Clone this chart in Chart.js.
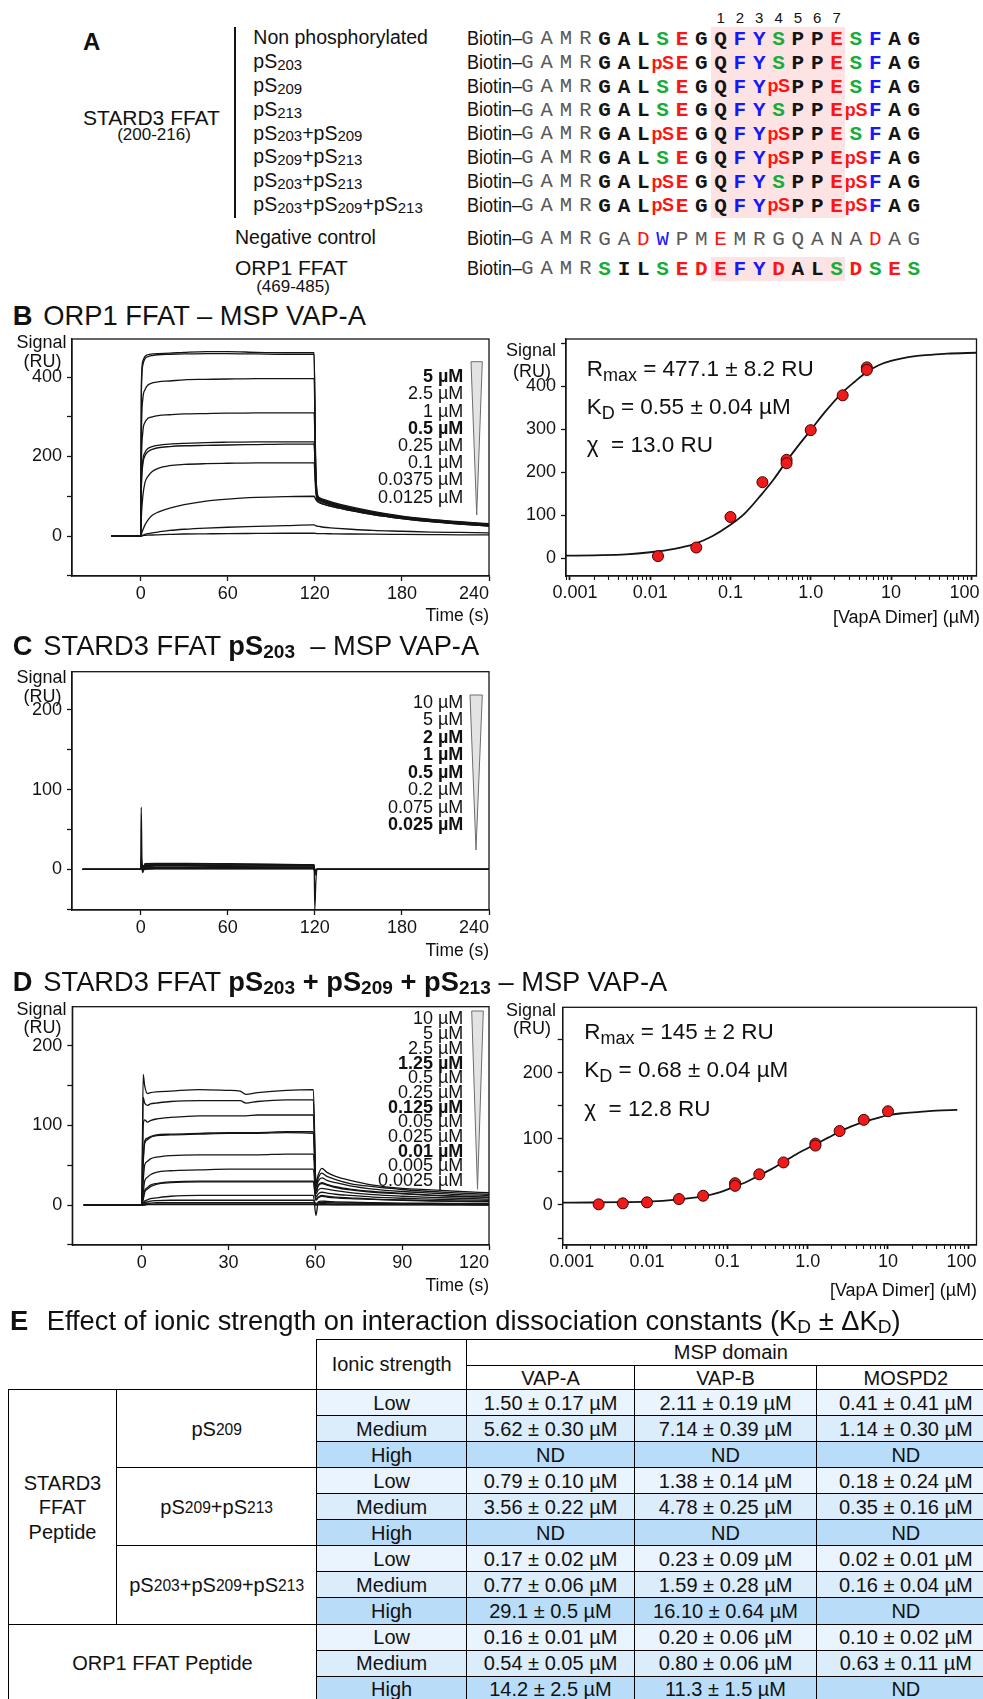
<!DOCTYPE html>
<html>
<head>
<meta charset="utf-8">
<title>STARD3 / ORP1 FFAT – MSP binding</title>
<script src="https://cdn.jsdelivr.net/npm/chart.js@4.4.1/dist/chart.umd.min.js"></script>
<style>
  body { margin: 0; background: #fff; }
  #fig { position: relative; width: 983px; height: 1699px; overflow: hidden; background: #fff;
         font-family: 'Liberation Sans', Arial, Helvetica, sans-serif; color: #111; }
  #fig canvas { position: absolute; }
  .t { position: absolute; white-space: nowrap; }
  .s1 { font-size: 0.77em; position: relative; top: 0.12em; }
  .s2 { font-size: 0.7em; position: relative; top: 0.16em; }
  .s3 { font-size: 0.8em; position: relative; top: 0.28em; }
  .s4 { font-size: 0.78em; position: relative; top: 0.06em; }
  .blk { position: absolute; }
  .cell { position: absolute; box-sizing: border-box; border: 1.5px solid #000; display: flex;
          align-items: center; justify-content: center; text-align: center; font-size: 20px;
          line-height: 24.5px; white-space: nowrap; }
</style>
</head>
<body>
<div id="fig"></div>
<script>
// ---------- B: ORP1 FFAT on MSP VAP-A, sensorgram ----------
const bTime = [-20, 0, 0.5, 1.5, 3, 5, 8, 12, 20, 30, 45, 60, 80, 100, 119.5, 120.5, 121.5, 123, 126, 133, 145, 160, 180, 200, 220, 240];
const b5a     = [0, 0, 380, 440, 452, 456, 458, 459, 460, 462, 464, 464, 462, 461, 461, 200, 110, 97, 92, 84, 73, 62, 50, 42, 36, 31];
const b5b     = [0, 0, 360, 430, 446, 451, 454, 456, 457, 458, 459, 459, 458, 457, 457, 195, 108, 95, 90, 82, 71, 60, 49, 41, 35, 30];
const b2p5    = [0, 0, 250, 345, 368, 380, 385, 388, 390, 393, 394, 395, 396, 396, 396, 180, 105, 94, 89, 80, 70, 60, 48, 40, 34, 29];
const b1      = [0, 0, 180, 262, 286, 296, 300, 303, 305, 307, 308, 309, 310, 310, 310, 160, 100, 92, 87, 79, 69, 59, 47, 39, 33, 28];
const b0p5a   = [0, 0, 130, 190, 210, 220, 225, 228, 231, 233, 235, 236, 237, 237, 237, 140, 96, 90, 85, 77, 67, 57, 46, 38, 32, 27];
const b0p5b   = [0, 0, 120, 180, 202, 212, 218, 222, 225, 227, 228, 229, 230, 231, 231, 135, 95, 89, 84, 76, 66, 56, 45, 37, 31, 26];
const b0p25   = [0, 0, 50, 100, 135, 150, 162, 170, 177, 180, 182, 183, 184, 184, 184, 120, 90, 85, 80, 73, 64, 54, 44, 36, 30, 25];
const b0p1    = [0, 0, 5, 15, 28, 40, 52, 60, 70, 79, 88, 93, 97, 99, 100, 93, 88, 84, 80, 73, 64, 54, 44, 36, 30, 25];
const b0p0375 = [0, 0, 0, 2, 4, 6, 8, 10, 14, 17, 20, 22, 24, 26, 28, 26, 25, 24, 22, 20, 17, 14, 12, 10, 9, 8];
const b0p0125 = [0, 0, 0, 1, 1.5, 2, 2.5, 3, 4, 5, 5.5, 6, 6.5, 7, 7, 6.5, 6, 6, 6, 5.5, 5, 4.5, 4, 3.5, 3, 3];
const bCurves = [b5a, b5b, b2p5, b1, b0p5a, b0p5b, b0p25, b0p1, b0p0375, b0p0125];
const bConcLabels = ['5 µM', '2.5 µM', '1 µM', '0.5 µM', '0.25 µM', '0.1 µM', '0.0375 µM', '0.0125 µM'];
const bBold = ['5 µM', '0.5 µM'];

// B: steady-state response vs [VapA dimer]
const bConc = [0.0125, 0.0375, 0.1, 0.25, 0.5, 0.5, 1, 2.5, 5, 5];
const bResp = [5, 25, 96, 177, 229, 221, 298, 379, 444, 438];
const bFitConc = [0.000893, 0.002, 0.005, 0.01, 0.02, 0.035, 0.06, 0.1, 0.15, 0.24, 0.35, 0.5, 0.7, 1, 1.5, 2.5, 3.5, 5, 7, 10, 20, 30, 50, 116];
const bFitResp = [6, 7, 9, 14, 22, 33, 52, 78, 104, 147, 185, 226, 262, 298, 340, 386, 410, 433, 449, 459, 470, 473, 476, 478];

// ---------- C: STARD3 FFAT pS203 on MSP VAP-A ----------
const cTime = [-40, -0.5, 0, 0.4, 0.9, 1.5, 3, 10, 30, 60, 90, 118.5, 119.5, 120, 120.6, 121.5, 123, 150, 200, 240];
const c10     = [0, 0, 0, 78, 10, -4, 7, 7.5, 7.5, 7, 6.5, 6, 6, -50, -20, 0, 0, 0, 0, 0];
const c5      = [0, 0, 0, 15, 6, 3, 6.5, 7, 7, 6.5, 6, 5.5, 5.5, -8, -3, 0, 0, 0, 0, 0];
const c2      = [0, 0, 0, 10, 5, 3, 5.5, 6, 6, 5.5, 5, 5, 5, -6, -2, 0, 0, 0, 0, 0];
const c1      = [0, 0, 0, 8, 4, 2, 4.5, 5, 5, 4.5, 4, 4, 4, -5, -2, 0, 0, 0, 0, 0];
const c0p5    = [0, 0, 0, 6, 3, 2, 3.5, 4, 4, 3.5, 3, 3, 3, -4, -1, 0, 0, 0, 0, 0];
const c0p2    = [0, 0, 0, 4, 2, 1, 2, 2.5, 2.5, 2, 2, 2, 2, -3, -1, 0, 0, 0, 0, 0];
const c0p075  = [0, 0, 0, 3, 1, 0, 1, 1, 1, 1, 1, 1, 1, -2, 0, 0, 0, 0, 0, 0];
const c0p025  = [0, 0, 0, 2, 0, -1, 0, 0.5, 0.5, 0.5, 0.5, 0.5, 0.5, -1, 0, 0, 0, 0, 0, 0];
const cCurves = [c10, c5, c2, c1, c0p5, c0p2, c0p075, c0p025];
const cConcLabels = ['10 µM', '5 µM', '2 µM', '1 µM', '0.5 µM', '0.2 µM', '0.075 µM', '0.025 µM'];
const cBold = ['2 µM', '1 µM', '0.5 µM', '0.025 µM'];

// ---------- D: STARD3 FFAT pS203+pS209+pS213 on MSP VAP-A ----------
const dTime = [-20, 0, 0.5, 1, 2, 3, 5, 10, 20, 30, 34, 36, 40, 50, 59.3, 60.2, 61, 62.2, 64, 67, 72, 80, 90, 100, 110, 120];
const d10      = [0, 0, 164, 150, 140, 141, 142, 143, 145, 144, 143, 139, 141, 144, 145, 28, 38, 46, 41, 36, 31, 25, 21, 19, 17, 15.5];
const d5       = [0, 0, 135, 128, 125, 127, 128, 130, 131, 131, 131, 128, 130, 132, 132, 25, 34, 40, 36, 32, 27, 23, 19.5, 17, 15, 13.5];
const d2p5     = [0, 0, 100, 107, 104, 106, 108, 110, 112, 112, 112, 112, 113, 113, 113, 22, 30, 34, 31, 28, 24, 20, 17, 15, 13, 12];
const d1p25a   = [0, 0, 55, 80, 84, 86, 88, 89, 90, 91, 91, 91, 91, 92, 92, 18, 25, 28, 26, 23, 20, 17, 14.5, 12.5, 11, 10];
const d1p25b   = [0, 0, 52, 77, 82, 85, 87, 88, 89, 90, 90, 90, 90, 91, 90, 17, 24, 27, 25, 22, 19, 16, 14, 12, 10.5, 9.5];
const d0p5     = [0, 0, 30, 50, 55, 58, 60, 62, 63, 63, 63, 63, 63, 64, 64, 14, 19, 21, 20, 18, 15.5, 13, 11, 9.5, 8.5, 7.5];
const d0p25    = [0, 0, 15, 30, 35, 38, 41, 43, 44, 45, 45, 45, 45, 45, 45, 10, 14, 16, 15, 13.5, 12, 10, 8.5, 7.5, 6.5, 6];
const d0p125a  = [0, 0, 8, 18, 22, 25, 27, 29, 30, 30, 30, 30, 30, 30, 30, 7, 10, 12, 11, 10, 9, 7.5, 6.5, 5.5, 5, 4.5];
const d0p125b  = [0, 0, 7, 16, 20, 23, 26, 28, 29, 29, 29, 29, 29, 29, 29, 6, 9, 11, 10, 9, 8, 7, 6, 5, 4.5, 4];
const d0p05    = [0, 0, 2, 5, 6.5, 8, 9, 11, 12, 12, 12, 12, 12, 12, 12, -13, 4, 5, 4.5, 4, 3.5, 3, 2.5, 2.2, 2, 1.8];
const d0p025   = [0, 0, 1, 3, 4, 5, 5.5, 6, 6, 6, 6, 6, 6, 6, 6, 2, 3, 3.2, 3, 2.7, 2.4, 2, 1.7, 1.5, 1.3, 1.2];
const d0p01    = [0, 0, 0.5, 1.5, 2, 2.5, 3, 3, 3, 3, 3, 3, 3, 3, 3, 1, 1.5, 1.7, 1.5, 1.4, 1.2, 1, 0.9, 0.8, 0.7, 0.6];
const d0p005   = [0, 0, 0, 0.5, 1, 1, 1.5, 1.5, 1.5, 1.5, 1.5, 1.5, 1.5, 1.5, 1.5, 0.5, 0.8, 0.8, 0.7, 0.6, 0.5, 0.5, 0.4, 0.4, 0.3, 0.3];
const d0p0025  = [0, 0, 0, 0, 0.5, 0.5, 0.5, 0.5, 0.5, 0.5, 0.5, 0.5, 0.5, 0.5, 0.5, 0, 0.3, 0.3, 0.2, 0.2, 0.2, 0.1, 0.1, 0.1, 0.1, 0];
const dCurves = [d10, d5, d2p5, d1p25a, d1p25b, d0p5, d0p25, d0p125a, d0p125b, d0p05, d0p025, d0p01, d0p005, d0p0025];
const dConcLabels = ['10 µM', '5 µM', '2.5 µM', '1.25 µM', '0.5 µM', '0.25 µM', '0.125 µM', '0.05 µM', '0.025 µM', '0.01 µM', '0.005 µM', '0.0025 µM'];
const dBold = ['1.25 µM', '0.125 µM', '0.01 µM'];

const dConc = [0.0025, 0.005, 0.01, 0.025, 0.05, 0.125, 0.125, 0.25, 0.5, 1.25, 1.25, 2.5, 5, 10];
const dResp = [1, 2.5, 4, 9, 14, 33, 29, 46.5, 64.5, 93, 90, 112, 129, 142];
const dFitConc = [0.000893, 0.002, 0.005, 0.01, 0.025, 0.05, 0.08, 0.125, 0.18, 0.25, 0.35, 0.5, 0.75, 1.25, 1.8, 2.5, 3.5, 5, 7, 10, 15, 25, 40, 73];
const dFitResp = [3.5, 3.8, 4.3, 5, 8.5, 13, 19, 28, 36, 45, 54, 65, 78, 92, 102, 111, 119, 126, 131, 136, 139, 141, 143, 144];

// ---------- axis ticks ----------
const timeTicks4min = [0, 60, 120, 180, 240];
const timeTicks2min = [0, 30, 60, 90, 120];
const bSignalTicks = [-100, 0, 100, 200, 300, 400];
const bSignalLabels = [0, 200, 400];
const cdSignalTicks = [-50, 0, 50, 100, 150, 200];
const cdSignalLabels = [0, 100, 200];
const bFitSignalTicks = [0, 100, 200, 300, 400, 500];
const bFitSignalLabels = [0, 100, 200, 300, 400];
const dFitSignalTicks = [-50, 0, 50, 100, 150, 200, 250];
const dFitSignalLabels = [0, 100, 200];
const logTickValues = [0.001, 0.01, 0.1, 1, 10, 100];
// end labels are nudged inward with figure / thin spaces
const logTickLabels = ['\u20070.001', '0.01', '0.1', '1.0', '10', '100\u2007\u2009'];

// ---------- E: dissociation constants table ----------
const ionic = ['Low', 'Medium', 'High'];
const peptides = ['pS<span class="s4">209</span>', 'pS<span class="s4">209</span>+pS<span class="s4">213</span>',
  'pS<span class="s4">203</span>+pS<span class="s4">209</span>+pS<span class="s4">213</span>'];
const kdVapA = ['1.50 ± 0.17 µM', '5.62 ± 0.30 µM', 'ND', '0.79 ± 0.10 µM', '3.56 ± 0.22 µM', 'ND',
  '0.17 ± 0.02 µM', '0.77 ± 0.06 µM', '29.1 ± 0.5 µM', '0.16 ± 0.01 µM', '0.54 ± 0.05 µM', '14.2 ± 2.5 µM'];
const kdVapB = ['2.11 ± 0.19 µM', '7.14 ± 0.39 µM', 'ND', '1.38 ± 0.14 µM', '4.78 ± 0.25 µM', 'ND',
  '0.23 ± 0.09 µM', '1.59 ± 0.28 µM', '16.10 ± 0.64 µM', '0.20 ± 0.06 µM', '0.80 ± 0.06 µM', '11.3 ± 1.5 µM'];
const kdMospd2 = ['0.41 ± 0.41 µM', '1.14 ± 0.30 µM', 'ND', '0.18 ± 0.24 µM', '0.35 ± 0.16 µM', 'ND',
  '0.02 ± 0.01 µM', '0.16 ± 0.04 µM', 'ND', '0.10 ± 0.02 µM', '0.63 ± 0.11 µM', 'ND'];

// ---------- A: peptide sequences ----------
const stard3Seq = 'GALSEGQFYSPPESFAG';           // residues 200-216
const phosphoSets = [[], [3], [9], [13], [3, 9], [9, 13], [3, 13], [3, 9, 13]];
const rowNames = ['Non phosphorylated', 'pS<span class="s1">203</span>', 'pS<span class="s1">209</span>',
  'pS<span class="s1">213</span>', 'pS<span class="s1">203</span>+pS<span class="s1">209</span>',
  'pS<span class="s1">209</span>+pS<span class="s1">213</span>', 'pS<span class="s1">203</span>+pS<span class="s1">213</span>',
  'pS<span class="s1">203</span>+pS<span class="s1">209</span>+pS<span class="s1">213</span>'];
const negativeSeq = 'GADWPMEMRGQANADAG';
const orp1Seq = 'SILSEDEFYDALSDSES';          // residues 469-485

// ======================================================================
const INK = '#141414';
const SANS = "'Liberation Sans', Arial, Helvetica, sans-serif";
const MONO = "'Liberation Mono', 'Courier New', monospace";
const GREEN = '#17ad3a', RED = '#ff1414', BLUE = '#1717ff', GREY = '#595959';
const TITLE = 27.3;
const fig = document.getElementById('fig');
Chart.defaults.font.family = SANS;

function text(html, x, base, size, o = {}) {
  const d = document.createElement('div');
  d.className = 't';
  const asc = o.mono ? 0.7665 : 0.8465;
  d.style.left = x + 'px';
  d.style.top = (base - asc * size) + 'px';
  d.style.fontSize = size + 'px';
  d.style.lineHeight = size + 'px';
  if (o.bold) d.style.fontWeight = 'bold';
  if (o.color) d.style.color = o.color;
  if (o.mono) d.style.fontFamily = MONO;
  if (o.ls) d.style.letterSpacing = o.ls + 'px';
  const shift = o.align === 'right' ? '-100%' : o.align === 'center' ? '-50%' : '0';
  d.style.transformOrigin = '0 0';
  d.style.transform = `translateX(${shift})` + (o.sx ? ` scaleX(${o.sx})` : '');
  d.innerHTML = html;
  fig.appendChild(d);
  return d;
}

function block(x, y, w, h, color) {
  const d = document.createElement('div');
  d.className = 'blk';
  d.style.cssText = `left:${x}px;top:${y}px;width:${w}px;height:${h}px;background:${color}`;
  fig.appendChild(d);
}

function addCanvas(x, y, w, h) {
  const c = document.createElement('canvas');
  c.width = w; c.height = h;
  c.style.left = x + 'px'; c.style.top = y + 'px';
  c.style.width = w + 'px'; c.style.height = h + 'px';
  fig.appendChild(c);
  return c;
}

// box around the plotting area
const framePlugin = {
  id: 'frame',
  afterDatasetsDraw(chart) {
    const { ctx, chartArea: a } = chart;
    ctx.save();
    ctx.strokeStyle = INK;
    ctx.lineWidth = 1.3;
    ctx.strokeRect(a.left, a.top, a.right - a.left, a.bottom - a.top);
    ctx.restore();
  }
};

function axisBase(min, max, fixed, isX) {
  return {
    min, max,
    afterFit: s => {
      if (isX) { s.height = fixed; s.paddingLeft = 0; s.paddingRight = 0; }
      else { s.width = fixed; s.paddingTop = 0; s.paddingBottom = 0; }
    },
    border: { color: INK, width: 1.3 },
    grid: { drawOnChartArea: false, drawTicks: true, tickLength: 5, tickColor: INK, tickWidth: 1.3 },
    ticks: { autoSkip: false, maxRotation: 0, color: INK, font: { family: SANS, size: 18 }, padding: isX ? 2 : 5 }
  };
}

function linearAxis(min, max, fixed, isX, tickVals, labelVals, lastShift) {
  const ax = axisBase(min, max, fixed, isX);
  ax.type = 'linear';
  ax.afterBuildTicks = s => { s.ticks = tickVals.map(v => ({ value: v })); };
  ax.ticks.callback = v => {
    if (!labelVals.includes(v)) return '';
    // the last time label sits flush left of its tick
    return (lastShift && v === tickVals[tickVals.length - 1]) ? v + '\u2007\u2007\u2007' : String(v);
  };
  return ax;
}

function logAxis(min, max, fixed) {
  const ax = axisBase(min, max, fixed, true);
  ax.type = 'logarithmic';
  ax.grid.tickLength = 4;
  ax.grid.tickWidth = c => (c.tick && c.tick.major) ? 1.8 : 1.1;
  ax.afterBuildTicks = s => {
    const t = [];
    for (let e = -4; e <= 3; e++) {
      for (let m = 1; m <= 9; m++) {
        const v = +(m * Math.pow(10, e)).toPrecision(3);
        if (v >= s.min && v <= s.max) t.push({ value: v, major: m === 1 });
      }
    }
    s.ticks = t;
  };
  ax.ticks.callback = v => {
    const i = logTickValues.findIndex(d => Math.abs(d - v) < d * 1e-6);
    return i >= 0 ? logTickLabels[i] : '';
  };
  return ax;
}

function baseOptions(area, w, h) {
  return {
    responsive: false, animation: false, events: [],
    layout: { padding: { left: 0, top: area[1], right: w - area[2], bottom: 0 } },
    plugins: { legend: { display: false }, tooltip: { enabled: false } }
  };
}

function sensorgram(p) {
  const cv = addCanvas(p.x, p.y, p.w, p.h);
  const opts = baseOptions(p.area, p.w, p.h);
  opts.scales = {
    x: linearAxis(p.xMin, p.xMax, p.h - p.area[3], true, p.xTicks, p.xTicks, true),
    y: linearAxis(p.yMin, p.yMax, p.area[0], false, p.yTicks, p.yLabels, false)
  };
  return new Chart(cv, {
    type: 'line',
    data: {
      datasets: p.curves.map(resp => ({
        data: p.time.map((t, i) => ({ x: t, y: resp[i] })),
        borderColor: INK, borderWidth: 1.3, pointRadius: 0, fill: false,
        cubicInterpolationMode: 'monotone'
      }))
    },
    options: opts,
    plugins: [framePlugin]
  });
}

function bindingPlot(p) {
  const cv = addCanvas(p.x, p.y, p.w, p.h);
  const opts = baseOptions(p.area, p.w, p.h);
  opts.scales = {
    x: logAxis(p.xMin, p.xMax, p.h - p.area[3]),
    y: linearAxis(p.yMin, p.yMax, p.area[0], false, p.yTicks, p.yLabels, false)
  };
  return new Chart(cv, {
    type: 'scatter',
    data: {
      datasets: [
        { data: p.conc.map((c, i) => ({ x: c, y: p.resp[i] })), showLine: false,
          pointRadius: 5.5, pointBackgroundColor: '#ef1b1b', pointBorderColor: '#3c0000', pointBorderWidth: 1 },
        { data: p.fitConc.map((c, i) => ({ x: c, y: p.fitResp[i] })), showLine: true,
          pointRadius: 0, borderColor: INK, borderWidth: 1.8, cubicInterpolationMode: 'monotone' }
      ]
    },
    options: opts,
    plugins: [framePlugin]
  });
}

function concList(labels, bold, right, firstBase, step) {
  labels.forEach((l, i) => text(l, right, firstBase + i * step, 18, { align: 'right', bold: bold.includes(l) }));
}

function wedge(x0, x1, tipX, y0, y1) {
  const ns = 'http://www.w3.org/2000/svg';
  const s = document.createElementNS(ns, 'svg');
  s.setAttribute('width', 983); s.setAttribute('height', 1699);
  s.style.cssText = 'position:absolute;left:0;top:0;pointer-events:none';
  const pg = document.createElementNS(ns, 'polygon');
  pg.setAttribute('points', `${x0},${y0} ${x1},${y0} ${tipX},${y1}`);
  pg.setAttribute('fill', '#e3e3e3');
  pg.setAttribute('stroke', '#6e6e6e');
  pg.setAttribute('stroke-width', '1');
  s.appendChild(pg);
  fig.appendChild(s);
}

function axisTitles(cx, sigBase, ruBase) {
  text('Signal', cx, sigBase, 18, { align: 'center' });
  text('(RU)', cx + 1, ruBase, 18, { align: 'center' });
}

// ---------------- panel A ----------------
text('A', 83, 50, 24, { bold: true });
text('STARD3 FFAT', 83, 125, 21);
text('(200-216)', 154, 140, 17, { align: 'center' });
block(233.5, 26.7, 2, 191.6, INK);
block(711, 26.7, 134, 191.6, '#fde3e3');
block(711, 257.3, 134, 23.4, '#fde3e3');

const slotX = k => 527.3 + 19.33 * k;
for (let k = 0; k < 7; k++) text(String(k + 1), slotX(10 + k), 22.5, 15, { align: 'center' });

function resColor(r) {
  if (r === 'S') return GREEN;
  if (r === 'E' || r === 'D') return RED;
  if (r === 'F' || r === 'Y' || r === 'W') return BLUE;
  return INK;
}

function seqRow(base, tokens, thin) {
  text('Biotin–', 467.3, base, 20, { sx: 0.9 });
  'GAMR'.split('').forEach((r, k) => text(r, slotX(k), base, 20.5, { mono: true, align: 'center', color: GREY }));
  tokens.forEach((r, k) => {
    const x = slotX(k + 4);
    if (r === 'pS') {
      text('pS', x, base, 18, { bold: true, align: 'center', color: RED, ls: -0.4 });
    } else {
      let col = resColor(r);
      if (thin && col === INK) col = GREY;
      text(r, x, base, 21, { mono: true, bold: !thin, align: 'center', color: col });
    }
  });
}

rowNames.forEach((name, i) => {
  const base = 45 + 23.8 * i;
  text(name, 253.3, base, 19.5);
  const tokens = stard3Seq.split('').map((r, k) => phosphoSets[i].includes(k) ? 'pS' : r);
  seqRow(base, tokens, false);
});
text('Negative control', 235, 245, 19.5);
seqRow(245, negativeSeq.split(''), true);
text('ORP1 FFAT', 235, 275, 21);
text('(469-485)', 293, 292, 17, { align: 'center' });
seqRow(275, orp1Seq.split(''), false);

// ---------------- panel B ----------------
text('B', 12.7, 325, TITLE, { bold: true });
text('ORP1 FFAT – MSP VAP-A', 43.3, 325, TITLE);

sensorgram({
  x: 0, y: 320, w: 500, h: 310, area: [72, 19, 489, 256],
  time: bTime, curves: bCurves,
  xMin: -47.3, xMax: 240, xTicks: timeTicks4min,
  yMin: -100.6, yMax: 495.6, yTicks: bSignalTicks, yLabels: bSignalLabels
});
axisTitles(41.5, 348.3, 367.5);
text('Time (s)', 489, 622, 17.5, { align: 'right' });
concList(bConcLabels, bBold, 463.3, 382.5, 17.2);
wedge(471, 482.3, 476.7, 361.7, 515);

bindingPlot({
  x: 490, y: 320, w: 493, h: 310, area: [76, 19, 491, 256],
  conc: bConc, resp: bResp, fitConc: bFitConc, fitResp: bFitResp,
  xMin: 0.000893, xMax: 116.2,
  yMin: -41.2, yMax: 510, yTicks: bFitSignalTicks, yLabels: bFitSignalLabels
});
axisTitles(531, 356.7, 377);
text('[VapA Dimer] (µM)', 980, 623, 18, { align: 'right' });
text('R<span class="s3">max</span> = 477.1 ± 8.2 RU', 586.7, 376.7, 22.5);
text('K<span class="s3">D</span> = 0.55 ± 0.04 µM', 586.7, 415, 22.5);
text('χ&nbsp; = 13.0 RU', 586.7, 453.3, 22.5);

// ---------------- panel C ----------------
text('C', 12.7, 655, TITLE, { bold: true });
text('STARD3 FFAT <b>pS<span class="s2">203</span></b> &nbsp;– MSP VAP-A', 43.3, 655, TITLE);

sensorgram({
  x: 0, y: 660, w: 500, h: 300, area: [72, 11.7, 489, 250],
  time: cTime, curves: cCurves,
  xMin: -47.3, xMax: 240, xTicks: timeTicks4min,
  yMin: -51, yMax: 247.9, yTicks: cdSignalTicks, yLabels: cdSignalLabels
});
axisTitles(41.5, 683.3, 702.5);
text('Time (s)', 489, 957, 17.5, { align: 'right' });
concList(cConcLabels, cBold, 463.3, 708.1, 17.47);
wedge(470, 482.3, 476, 695, 850);

// ---------------- panel D ----------------
text('D', 12.7, 990.7, TITLE, { bold: true });
text('STARD3 FFAT <b>pS<span class="s2">203</span> + pS<span class="s2">209</span> + pS<span class="s2">213</span></b> – MSP VAP-A', 43.3, 990.7, TITLE);

sensorgram({
  x: 0, y: 995, w: 500, h: 300, area: [72.3, 11.7, 489, 250],
  time: dTime, curves: dCurves,
  xMin: -24, xMax: 120, xTicks: timeTicks2min,
  yMin: -50.2, yMax: 249, yTicks: cdSignalTicks, yLabels: cdSignalLabels
});
axisTitles(41.5, 1015, 1033);
text('Time (s)', 489, 1292, 17.5, { align: 'right' });
concList(dConcLabels, dBold, 463.3, 1024.7, 14.7);
wedge(471.7, 483.3, 477.5, 1011, 1189.3);

bindingPlot({
  x: 490, y: 995, w: 493, h: 300, area: [72.7, 12.3, 491, 250],
  conc: dConc, resp: dResp, fitConc: dFitConc, fitResp: dFitResp,
  xMin: 0.000893, xMax: 126.5,
  yMin: -60.6, yMax: 299.5, yTicks: dFitSignalTicks, yLabels: dFitSignalLabels
});
axisTitles(531, 1016, 1034);
text('[VapA Dimer] (µM)', 977, 1296.7, 18, { align: 'right' });
text('R<span class="s3">max</span> = 145 ± 2 RU', 584.3, 1040, 22.5);
text('K<span class="s3">D</span> = 0.68 ± 0.04 µM', 584.3, 1078.3, 22.5);
text('χ&nbsp; = 12.8 RU', 584.3, 1116.7, 22.5);

// ---------------- panel E ----------------
text('E', 10, 1330, TITLE, { bold: true });
text('Effect of ionic strength on interaction dissociation constants (K<span class="s2">D</span> ± ΔK<span class="s2">D</span>)', 46.7, 1330, TITLE);

const X = [8.3, 116.7, 316.7, 466.7, 634.3, 816.7, 995];
const Y = [1339.3, 1365.7, 1390, 1416, 1442, 1468, 1494, 1520, 1546, 1572, 1598, 1624.5, 1650.5, 1676.5, 1702.5];
const shade = { Low: '#e9f4fe', Medium: '#dbecfb', High: '#b9ddf8' };

function cell(c0, c1, r0, r1, html, bg) {
  const d = document.createElement('div');
  d.className = 'cell';
  d.style.left = (X[c0] - 0.75) + 'px';
  d.style.top = (Y[r0] - 0.75) + 'px';
  d.style.width = (X[c1] - X[c0] + 1.5) + 'px';
  d.style.height = (Y[r1] - Y[r0] + 1.5) + 'px';
  d.style.background = bg || '#fff';
  d.innerHTML = html;
  fig.appendChild(d);
}

cell(2, 3, 0, 2, 'Ionic strength');
cell(3, 6, 0, 1, 'MSP domain');
cell(3, 4, 1, 2, 'VAP-A');
cell(4, 5, 1, 2, 'VAP-B');
cell(5, 6, 1, 2, 'MOSPD2');
cell(0, 1, 2, 11, 'STARD3<br>FFAT<br>Peptide');
peptides.forEach((p, i) => cell(1, 2, 2 + 3 * i, 5 + 3 * i, p));
cell(0, 2, 11, 14, 'ORP1 FFAT Peptide');
for (let r = 0; r < 12; r++) {
  const lvl = ionic[r % 3];
  const bg = shade[lvl];
  cell(2, 3, 2 + r, 3 + r, lvl, bg);
  cell(3, 4, 2 + r, 3 + r, kdVapA[r], bg);
  cell(4, 5, 2 + r, 3 + r, kdVapB[r], bg);
  cell(5, 6, 2 + r, 3 + r, kdMospd2[r], bg);
}
</script>
</body>
</html>
